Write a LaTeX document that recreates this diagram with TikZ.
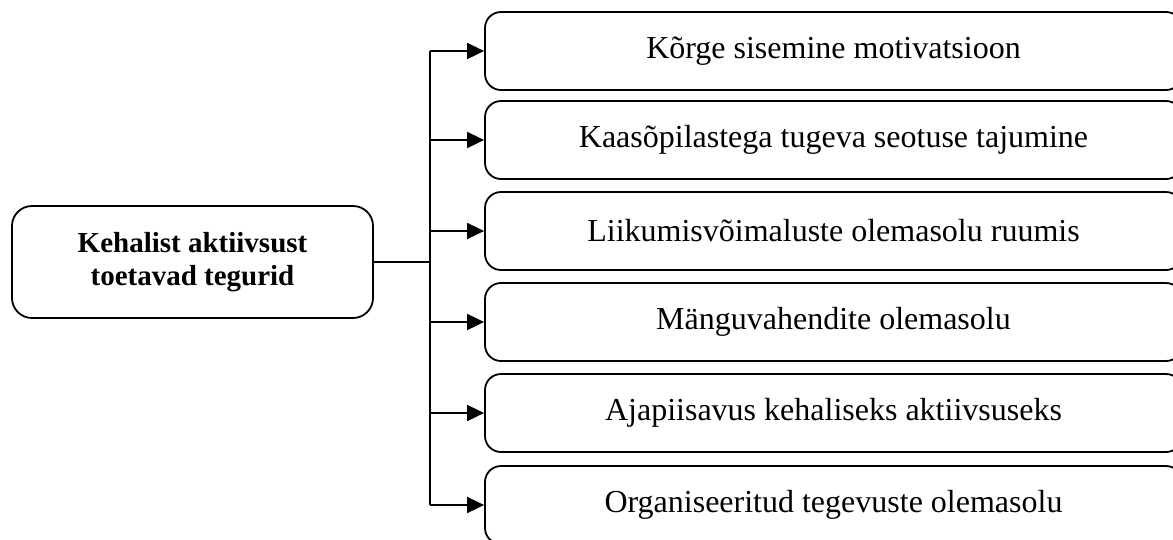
\documentclass[tikz,border=0pt]{standalone}
\usepackage{fontspec}
\setmainfont{Liberation Serif}
\usetikzlibrary{arrows.meta}

\tikzset{
  factor/.style={draw, line width=1.8pt, rounded corners=16pt, minimum width=697pt,
    minimum height=78pt, inner sep=0pt, font=\fontsize{32}{36}\selectfont},
  mainbox/.style={draw, line width=1.8pt, rounded corners=20pt, minimum width=361pt,
    minimum height=112pt, align=center, font=\fontsize{29}{33}\selectfont\bfseries},
  link/.style={line width=1.8pt},
  arrowlink/.style={link, -{Triangle[length=17pt,width=16pt]}},
}

\begin{document}
\begin{tikzpicture}[x=1pt, y=-1pt]
  \clip (0,0) rectangle (1173,539);
  \useasboundingbox (0,0) rectangle (1173,539);

  % Main box
  \node[mainbox] (main) at (192.5, 262) {Kehalist aktiivsust\\toetavad tegurid};

  % Factors
  \node[factor] (f1) at (833.5, 51) {Kõrge sisemine motivatsioon};
  \node[factor] (f2) at (833.5, 140) {Kaasõpilastega tugeva seotuse tajumine};
  \node[factor] (f3) at (833.5, 231) {Liikumisvõimaluste olemasolu ruumis};
  \node[factor] (f4) at (833.5, 322) {Mänguvahendite olemasolu};
  \node[factor] (f5) at (833.5, 413) {Ajapiisavus kehaliseks aktiivsuseks};
  \node[factor] (f6) at (833.5, 505) {Organiseeritud tegevuste olemasolu};

  \coordinate (split) at (430, 262);

  \draw[link] (main.east) -- (split);
  \draw[link] (split |- f1.west) -- (split |- f6.west);
  \foreach \f in {f1, f2, f3, f4, f5, f6}
    \draw[arrowlink] (split |- \f.west) -- (\f.west);
\end{tikzpicture}
\end{document}
